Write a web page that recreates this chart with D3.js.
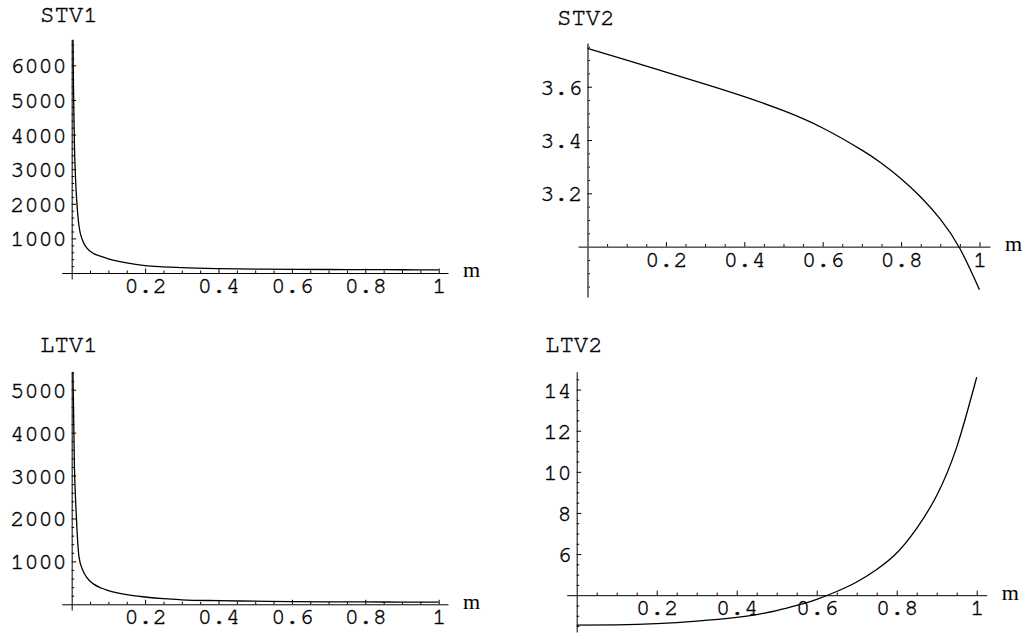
<!DOCTYPE html>
<html>
<head>
<meta charset="utf-8">
<script src="https://cdn.jsdelivr.net/npm/d3@7"></script>
<style>
  html, body { margin: 0; padding: 0; background: #fff; }
  svg { display: block; }
</style>
</head>
<body>
<script>
// ---------------- data ----------------
const xMajor = [0.2, 0.4, 0.6, 0.8, 1];

const mSTV1 = [0.0036, 0.005, 0.0075, 0.01, 0.0137, 0.02, 0.03, 0.04, 0.06, 0.08, 0.1, 0.15, 0.2, 0.25, 0.3, 0.4, 0.5, 0.6, 0.7, 0.8, 0.9, 1.0];
const STV1  = [6750, 5300, 3700, 2850, 2100, 1350, 930, 740, 560, 480, 410, 290, 215, 180, 155, 128, 115, 107, 102, 98, 95, 92];

const mSTV2 = [0, 0.1, 0.2, 0.3, 0.4, 0.5, 0.6, 0.7, 0.75, 0.8, 0.85, 0.9, 0.95, 1.0];
const STV2  = [3.744, 3.70, 3.655, 3.61, 3.563, 3.51, 3.445, 3.362, 3.313, 3.255, 3.186, 3.103, 2.993, 2.838];

const mLTV1 = [0.0034, 0.005, 0.0075, 0.01, 0.0118, 0.015, 0.02, 0.03, 0.04, 0.06, 0.08, 0.1, 0.15, 0.2, 0.25, 0.3, 0.4, 0.5, 0.6, 0.7, 0.8, 0.9, 1.0];
const LTV1  = [5420, 4600, 3200, 2550, 2200, 1650, 1100, 800, 640, 470, 380, 320, 225, 170, 130, 105, 85, 72, 64, 58, 55, 52, 50];

const mLTV2 = [0, 0.1, 0.2, 0.3, 0.4, 0.45, 0.5, 0.55, 0.6, 0.65, 0.7, 0.75, 0.8, 0.85, 0.9, 0.95, 1.0];
const LTV2  = [2.54, 2.56, 2.62, 2.74, 2.92, 3.06, 3.25, 3.50, 3.80, 4.18, 4.64, 5.25, 6.05, 7.25, 8.85, 11.2, 14.6];

const yMajorSTV1 = [1000, 2000, 3000, 4000, 5000, 6000];
const yMajorSTV2 = [3.2, 3.4, 3.6];
const yMajorLTV1 = [1000, 2000, 3000, 4000, 5000];
const yMajorLTV2 = [6, 8, 10, 12, 14];

const titles = ["STV1", "STV2", "LTV1", "LTV2"];
const xLabel = "m";

// ---------------- layout ----------------
const W = 1023, H = 633;
const MONO = "FreeMono";
const SERIF = "Liberation Serif";
const svg = d3.select("body").append("svg").attr("width", W).attr("height", H);

function range(a, b, step) {
  const out = [];
  for (let v = a; v <= b + 1e-9; v += step) out.push(+v.toFixed(6));
  return out;
}

function monoText(sel, size) {
  sel.attr("font-family", MONO).attr("font-size", size)
     .attr("fill", "#000").attr("stroke", "#000").attr("stroke-width", 0.45);
}

const panels = [
  { title: titles[0], m: mSTV1, v: STV1, yMajor: yMajorSTV1, yMinorStep: 200, yOrigin: 0, curve: d3.curveMonotoneX,
    xDom: [-0.0272, 1.0253], xRange: [61.7, 448], yDom: [-170, 6750], yRange: [278.9, 39.4],
    fmtY: d3.format("d"), titlePos: [40, 22] },
  { title: titles[1], m: mSTV2, v: STV2, yMajor: yMajorSTV2, yMinorStep: 0.05, yOrigin: 3.0, curve: d3.curveNatural,
    xDom: [-0.0242, 1.0268], xRange: [578, 990], yDom: [2.811, 3.764], yRange: [297, 43],
    fmtY: d3.format(".1f"), titlePos: [557, 25] },
  { title: titles[2], m: mLTV1, v: LTV1, yMajor: yMajorLTV1, yMinorStep: 200, yOrigin: 0, curve: d3.curveMonotoneX,
    xDom: [-0.0272, 1.0253], xRange: [61.7, 448], yDom: [-133, 5420], yRange: [610, 371.7],
    fmtY: d3.format("d"), titlePos: [40, 352] },
  { title: titles[3], m: mLTV2, v: LTV2, yMajor: yMajorLTV2, yMinorStep: 0.5, yOrigin: 4, curve: d3.curveNatural,
    xDom: [-0.025, 1.025], xRange: [566.7, 986.7], yDom: [2.21, 14.87], yRange: [632, 371.7],
    fmtY: d3.format("d"), titlePos: [545, 352] }
];

const fmtX = d => d === 1 ? "1" : d3.format(".1f")(d);

panels.forEach((p, i) => {
  const x = d3.scaleLinear().domain(p.xDom).range(p.xRange);
  const y = d3.scaleLinear().domain(p.yDom).range(p.yRange);
  const g = svg.append("g");

  const x0 = x(0), y0 = y(p.yOrigin);

  const xMinor = range(0.05, 1, 0.05).filter(v => Math.abs(v * 5 - Math.round(v * 5)) > 1e-6);
  const yStart = Math.ceil(p.yDom[0] / p.yMinorStep) * p.yMinorStep;
  const yMinorAll = range(yStart, p.yDom[1], p.yMinorStep);
  const yMinor = yMinorAll.filter(v => !p.yMajor.some(M => Math.abs(M - v) < 1e-6) && Math.abs(v - p.yOrigin) > 1e-6);

  g.append("g").attr("transform", `translate(0,${y0})`)
    .call(d3.axisBottom(x).tickValues(xMinor).tickSize(-2.5).tickFormat(""))
    .call(a => a.select(".domain").remove());
  const xa = g.append("g").attr("transform", `translate(0,${y0})`)
    .call(d3.axisBottom(x).tickValues(xMajor).tickSizeInner(-4.5).tickSizeOuter(0).tickPadding(0).tickFormat(fmtX));
  xa.select(".domain").attr("stroke", "#000").attr("stroke-width", 1);
  xa.selectAll(".tick line").attr("stroke", "#000");
  xa.selectAll(".tick text").attr("y", 12.5).attr("dy", "0.32em").call(monoText, 23.5);

  g.append("g").attr("transform", `translate(${x0},0)`)
    .call(d3.axisLeft(y).tickValues(yMinor).tickSize(-2.5).tickFormat(""))
    .call(a => a.select(".domain").remove());
  const ya = g.append("g").attr("transform", `translate(${x0},0)`)
    .call(d3.axisLeft(y).tickValues(p.yMajor).tickSizeInner(-4.5).tickSizeOuter(0).tickPadding(5).tickFormat(p.fmtY));
  ya.select(".domain").attr("stroke", i === 1 ? "#555" : "#000").attr("stroke-width", i === 1 ? 1.6 : 1);
  ya.selectAll(".tick line").attr("stroke", "#000");
  ya.selectAll(".tick text").attr("dy", "0.32em").call(monoText, 23.5);

  const clipId = "clip" + i;
  svg.append("clipPath").attr("id", clipId).append("rect")
    .attr("x", p.xRange[0]).attr("y", p.yRange[1])
    .attr("width", p.xRange[1] - p.xRange[0]).attr("height", p.yRange[0] - p.yRange[1]);
  const pts = p.m.map((mv, k) => [mv, p.v[k]]);
  g.append("path").datum(pts)
    .attr("clip-path", `url(#${clipId})`)
    .attr("fill", "none").attr("stroke", "#000").attr("stroke-width", 1.3)
    .attr("d", d3.line().x(d => x(d[0])).y(d => y(d[1])).curve(p.curve));

  g.append("text").attr("x", p.titlePos[0]).attr("y", p.titlePos[1]).text(p.title).call(monoText, 24);
  g.append("text").attr("x", p.xRange[1] + 15).attr("y", y0).attr("dy", "0.2em")
    .attr("font-family", SERIF).attr("font-size", 22).attr("fill", "#000").text(xLabel);
});
</script>
</body>
</html>
